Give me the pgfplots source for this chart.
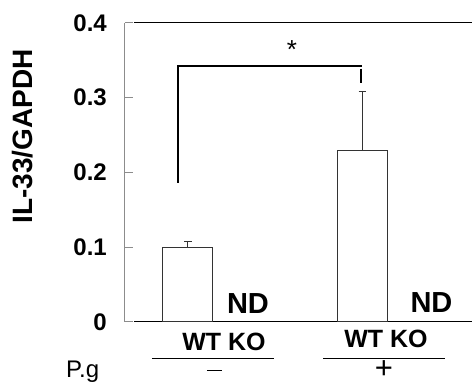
\documentclass[border=0pt]{standalone}
\usepackage{fontspec}
\setmainfont{Liberation Sans}
\usepackage{pgfplots}
\pgfplotsset{compat=1.18}
\begin{document}
\begin{tikzpicture}
\begin{axis}[
  at={(125pt,63pt)}, anchor=south west,
  scale only axis, width=347pt, height=299pt,
  xmin=125, xmax=472, ymin=0, ymax=0.4,
  clip=false,
  axis x line=none,
  axis y line*=left,
  y axis line style={draw=black!45, line width=1pt, -},
  ytick={0,0.1,0.2,0.3,0.4},
  major tick length=8pt,
  ytick style={draw=black!45, line width=1pt},
  tick align=inside,
  /pgf/number format/assume math mode=true,
  yticklabel style={font=\bfseries\fontsize{24}{24}\selectfont, anchor=east, inner sep=0pt, xshift=-18pt},
  ylabel={IL-33/GAPDH},
  ylabel style={at={(-0.294,0.62)}, anchor=center, rotate=0, font=\bfseries\fontsize{28}{28}\selectfont},
]
% frame lines
\addplot[black, line width=1pt] coordinates {(134,0) (472,0)};
\addplot[black, line width=1pt] coordinates {(134,0.4) (472,0.4)};
% bars
\addplot[ybar, bar width=50, fill=white, draw=black!80, line width=1pt,
  error bars/.cd, y dir=plus, y explicit,
  error bar style={draw=black!80, line width=1pt},
  error mark options={rotate=90, mark size=3.5pt, draw=black!80, line width=1pt}]
  coordinates {(188,0.100) +- (0,0.0075) (362,0.230) +- (0,0.079)};
% significance bracket
\addplot[black, line width=2pt] coordinates {(178,0.186) (178,0.3425) (362,0.3425)};
\addplot[black, line width=2.6pt] coordinates {(361,0.339) (361,0.320)};
\node[anchor=base, font=\fontsize{26}{26}\selectfont] at (axis cs:292,0.353) {*};
% ND labels
\node[anchor=base, font=\bfseries\fontsize{29}{29}\selectfont] at (axis cs:248,0.012) {ND};
\node[anchor=base, font=\bfseries\fontsize{29}{29}\selectfont] at (axis cs:431.5,0.013) {ND};
% genotype labels
\node[anchor=base, font=\bfseries\fontsize{25}{25}\selectfont] at (axis cs:224,-0.0388) {WT KO};
\node[anchor=base, font=\bfseries\fontsize{25}{25}\selectfont] at (axis cs:386,-0.0335) {WT KO};
\addplot[black, line width=1pt] coordinates {(152,-0.0495) (274,-0.0495)};
\addplot[black, line width=1pt] coordinates {(323,-0.0495) (445,-0.0495)};
\addplot[black, line width=0.8pt] coordinates {(207,-0.0642) (222,-0.0642)};
\node[anchor=center, font=\fontsize{31}{31}\selectfont, inner sep=0pt] at (axis cs:384,-0.0640) {+};
\node[anchor=base west, font=\fontsize{24}{24}\selectfont, inner sep=0pt] at (axis cs:66,-0.0736) {P.g};
\end{axis}
\pgfresetboundingbox
\useasboundingbox (0,0) rectangle (472pt,385pt);
\end{tikzpicture}
\end{document}
